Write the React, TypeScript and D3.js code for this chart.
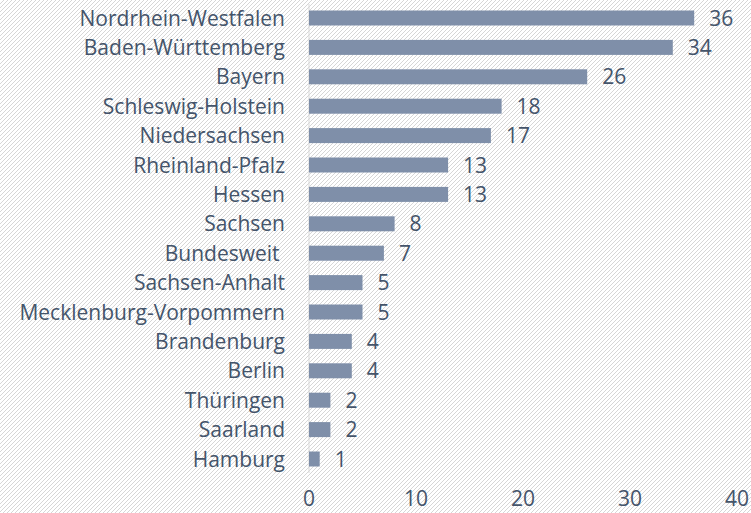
import React from "react";
import * as d3 from "d3";

const states = [
  "Nordrhein-Westfalen",
  "Baden-Württemberg",
  "Bayern",
  "Schleswig-Holstein",
  "Niedersachsen",
  "Rheinland-Pfalz",
  "Hessen",
  "Sachsen",
  "Bundesweit ",
  "Sachsen-Anhalt",
  "Mecklenburg-Vorpommern",
  "Brandenburg",
  "Berlin",
  "Thüringen",
  "Saarland",
  "Hamburg",
];
const counts = [36, 34, 26, 18, 17, 13, 13, 8, 7, 5, 5, 4, 4, 2, 2, 1];
const ticks = [0, 10, 20, 30, 40];

const width = 751;
const height = 513;
const textColor = "#44546A";
const barColor = "#7F8FA9";
const font = "'Open Sans', 'Noto Sans', sans-serif";
const fontSize = 21;

const App = () => {
  const x = d3.scaleLinear().domain([0, 40]).range([309, 737]);
  const y = d3
    .scaleBand()
    .domain(states)
    .range([3.3, 473.7])
    .paddingInner(0.49)
    .paddingOuter(0.245);

  return (
    <svg
      width={width}
      height={height}
      style={{ position: "absolute", left: 0, top: 0 }}
    >
      <defs>
        <pattern id="hatch" width="4" height="4" patternUnits="userSpaceOnUse">
          <path
            d="M-1,1 l2,-2 M0,4 l4,-4 M3,5 l2,-2"
            stroke="#d6d6d6"
            strokeWidth="1"
          />
        </pattern>
      </defs>
      <rect width={width} height={height} fill="#fff" />
      <rect width={width} height={height} fill="url(#hatch)" />

      {/* value axis line */}
      <line
        x1={x(0)}
        x2={x(0)}
        y1={4}
        y2={473}
        stroke="#d9d9d9"
        strokeWidth={1}
      />

      {states.map((s, i) => (
        <g key={s}>
          <rect
            x={x(0)}
            y={y(s)}
            width={x(counts[i]) - x(0)}
            height={y.bandwidth()}
            fill={barColor}
          />
          <text
            x={285}
            y={y(s)! + y.bandwidth() / 2}
            dy="0.36em"
            textAnchor="end"
            fontFamily={font}
            fontSize={fontSize}
            fill={textColor}
            style={{ whiteSpace: "pre" }}
          >
            {s}
          </text>
          <text
            x={x(counts[i]) + 15}
            y={y(s)! + y.bandwidth() / 2}
            dy="0.36em"
            fontFamily={font}
            fontSize={fontSize}
            fill={textColor}
          >
            {counts[i]}
          </text>
        </g>
      ))}

      {ticks.map((t) => (
        <text
          key={t}
          x={x(t)}
          y={498}
          dy="0.36em"
          textAnchor="middle"
          fontFamily={font}
          fontSize={fontSize}
          fill={textColor}
        >
          {t}
        </text>
      ))}
    </svg>
  );
};

export default App;
